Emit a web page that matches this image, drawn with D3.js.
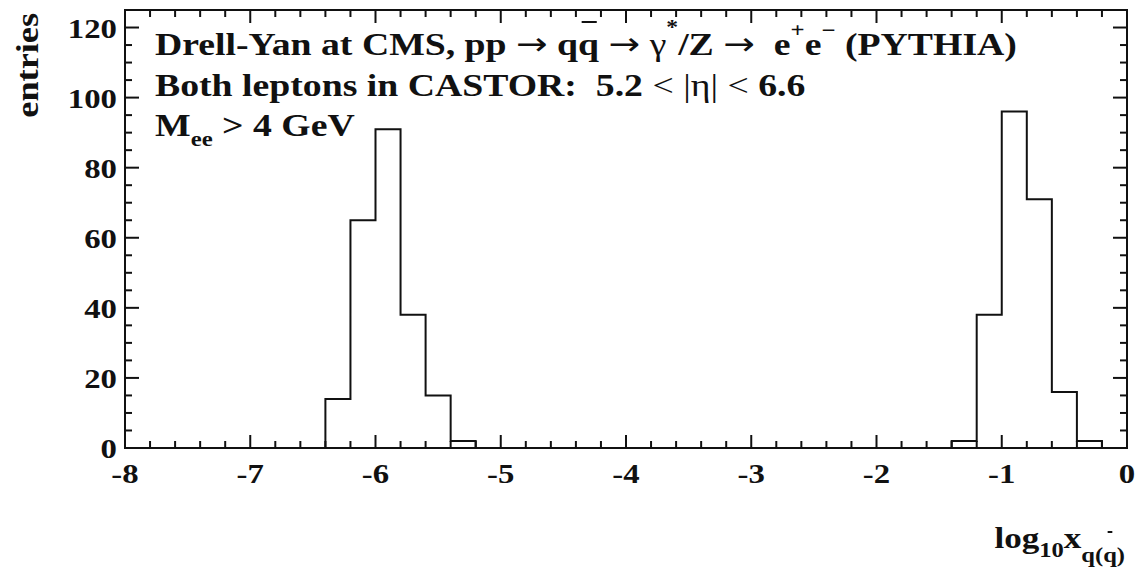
<!DOCTYPE html>
<html>
<head>
<meta charset="utf-8">
<script src="https://cdn.jsdelivr.net/npm/d3@7"></script>
<style>
  html, body { margin: 0; padding: 0; background: #fff; }
  svg { display: block; }
  text { font-family: "Liberation Serif", "Times New Roman", serif; font-weight: bold; fill: #111; white-space: pre; }
  .sym { font-family: "DejaVu Sans", sans-serif; font-weight: normal; }
  .thin { font-weight: normal; }
</style>
</head>
<body>
<svg id="chart" width="1138" height="567"></svg>
<script>
// Histogram of log10 x for the quark (antiquark), bin width 0.2
const binLow    = [-6.4, -6.2, -6.0, -5.8, -5.6, -5.4, -1.4, -1.2, -1.0, -0.8, -0.6, -0.4];
const binCounts = [14, 65, 91, 38, 15, 2, 2, 38, 96, 71, 16, 2];
const binWidth  = 0.2;

const xDomain = [-8, 0];
const yDomain = [0, 125];
const xMajorTicks = [-8, -7, -6, -5, -4, -3, -2, -1, 0];
const yMajorTicks = [0, 20, 40, 60, 80, 100, 120];

const svg = d3.select("#chart");
const plotL = 125, plotR = 1127, plotT = 10, plotB = 448;
const sx = 1.17;   // horizontal widening of axis lettering
const sxA = 1.18;  // horizontal widening of the annotation block

const x = d3.scaleLinear().domain(xDomain).range([plotL, plotR]);
const y = d3.scaleLinear().domain(yDomain).range([plotB, plotT]);

const ink = "#111";

// frame
svg.append("rect")
  .attr("x", plotL).attr("y", plotT)
  .attr("width", plotR - plotL).attr("height", plotB - plotT)
  .attr("fill", "none").attr("stroke", ink).attr("stroke-width", 2);

// tick marks on all four sides
const xMinor = d3.range(xDomain[0], xDomain[1] + 1e-9, 0.2).map(v => +v.toFixed(1));
const yMinor = d3.range(yDomain[0], yDomain[1] + 1e-9, 5);
const isMajorX = v => Math.abs(v - Math.round(v)) < 1e-6;
const isMajorY = v => v % 20 === 0;
const tickG = svg.append("g").attr("stroke", ink).attr("stroke-width", 2);
xMinor.forEach(v => {
  const len = isMajorX(v) ? 13 : 7;
  tickG.append("line").attr("x1", x(v)).attr("x2", x(v)).attr("y1", plotB).attr("y2", plotB - len);
  tickG.append("line").attr("x1", x(v)).attr("x2", x(v)).attr("y1", plotT).attr("y2", plotT + len);
});
yMinor.forEach(v => {
  const len = isMajorY(v) ? 14 : 7;
  tickG.append("line").attr("y1", y(v)).attr("y2", y(v)).attr("x1", plotL).attr("x2", plotL + len);
  tickG.append("line").attr("y1", y(v)).attr("y2", y(v)).attr("x1", plotR).attr("x2", plotR - len);
});

// tick labels
svg.append("g").selectAll("text").data(xMajorTicks).join("text")
  .attr("transform", d => `translate(${x(d)},${plotB + 35}) scale(${sx},1)`)
  .attr("text-anchor", "middle").attr("font-size", 28)
  .text(d => d);
svg.append("g").selectAll("text").data(yMajorTicks).join("text")
  .attr("transform", d => `translate(${plotL - 8},${y(d) + 10}) scale(${sx},1)`)
  .attr("text-anchor", "end").attr("font-size", 28)
  .text(d => d);

// histogram outline drawn as step runs, one per contiguous group of bins
const runs = [];
let cur = null;
binLow.forEach((lo, i) => {
  const hi = lo + binWidth;
  const contiguous = cur && Math.abs(cur.end - lo) < 1e-6;
  if (!contiguous) {
    if (cur) runs.push(cur);
    cur = { pts: [[lo, 0]], end: hi };
  }
  cur.pts.push([lo, binCounts[i]], [hi, binCounts[i]]);
  cur.end = hi;
});
if (cur) runs.push(cur);
runs.forEach(r => r.pts.push([r.end, 0]));

const line = d3.line().x(d => x(d[0])).y(d => y(d[1]));
svg.append("g").selectAll("path").data(runs).join("path")
  .attr("d", d => line(d.pts)).attr("fill", "none").attr("stroke", ink).attr("stroke-width", 2);

// y axis title
svg.append("text")
  .attr("transform", `translate(38,13) rotate(-90) scale(${sx},1)`)
  .attr("text-anchor", "end").attr("font-size", 31)
  .text("entries");

// annotation lines
const fs = 32;
const g1 = svg.append("g").attr("transform", `translate(155,55) scale(${sxA},1)`);
const t1 = g1.append("text").attr("font-size", fs);
t1.append("tspan").text("Drell-Yan at CMS, pp ");
t1.append("tspan").attr("class", "sym").text("\u2192");
t1.append("tspan").text(" q");
const qbar = t1.append("tspan").text("q");
t1.append("tspan").text(" ");
t1.append("tspan").attr("class", "sym").text("\u2192");
t1.append("tspan").attr("class", "thin").text(" \u03B3");
t1.append("tspan").attr("font-size", 20).attr("dy", -21).text("*");
t1.append("tspan").attr("dy", 21).text("/Z ");
t1.append("tspan").attr("class", "sym").text("\u2192");
t1.append("tspan").text("  e");
t1.append("tspan").attr("font-size", 21).attr("dy", -18).text("+");
t1.append("tspan").attr("dy", 18).text("e");
t1.append("tspan").attr("font-size", 21).attr("dy", -18).text("\u2212");
t1.append("tspan").attr("dy", 18).text(" (PYTHIA)");

// bar over the antiquark
{
  const n = qbar.node();
  const s = n.getStartPositionOfChar(0).x;
  const e = n.getEndPositionOfChar(0).x;
  g1.append("line").attr("x1", s + 3).attr("x2", e - 2).attr("y1", -33).attr("y2", -33)
    .attr("stroke", ink).attr("stroke-width", 2);
}

const g2 = svg.append("g").attr("transform", `translate(155,96) scale(${sxA},1)`);
const t2 = g2.append("text").attr("font-size", fs);
t2.append("tspan").text("Both leptons in CASTOR:  5.2 ");
t2.append("tspan").attr("class", "thin").text("< |\u03B7| <");
t2.append("tspan").text(" 6.6");

const g3 = svg.append("g").attr("transform", `translate(155,136) scale(${sxA},1)`);
const t3 = g3.append("text").attr("font-size", fs);
t3.append("tspan").text("M");
t3.append("tspan").attr("font-size", 21).attr("dy", 10).text("ee");
t3.append("tspan").attr("dy", -10).text(" > 4 GeV");

// x axis title
const gx = svg.append("g").attr("transform", `translate(1125,548) scale(${sx},1)`);
const xt = gx.append("text").attr("text-anchor", "end").attr("font-size", 30);
xt.append("tspan").text("log");
xt.append("tspan").attr("font-size", 21).attr("dy", 9).text("10");
xt.append("tspan").attr("dy", -9).text("x");
xt.append("tspan").attr("font-size", 21).attr("dy", 14).text("q(");
const xbar = xt.append("tspan").attr("font-size", 21).text("q");
xt.append("tspan").attr("font-size", 21).text(")");
{
  const n = xbar.node();
  const s = n.getStartPositionOfChar(0).x;
  const e = n.getEndPositionOfChar(0).x;
  const mid = (s + e) / 2;
  gx.append("line").attr("x1", mid - 2).attr("x2", mid + 2).attr("y1", -16).attr("y2", -16)
    .attr("stroke", ink).attr("stroke-width", 2);
}
</script>
</body>
</html>
